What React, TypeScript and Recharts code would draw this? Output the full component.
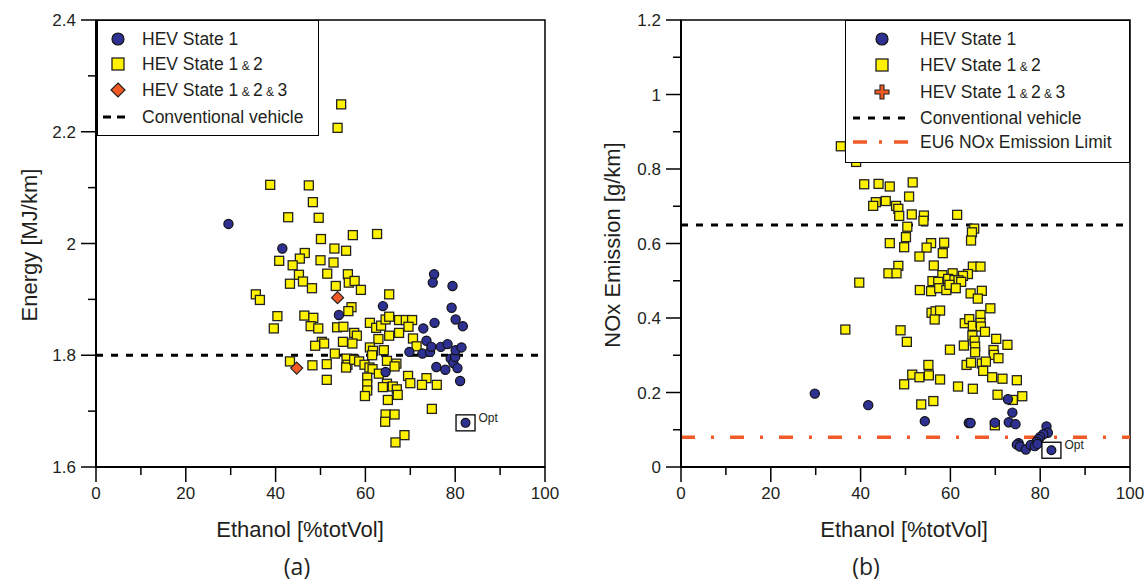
import React from 'react'
import { ScatterChart, Scatter, XAxis, YAxis, ReferenceLine, ReferenceArea } from 'recharts'

// axis ticks
const xTicks = [0, 10, 20, 30, 40, 50, 60, 70, 80, 90, 100]
const energyTicks = [1.6, 1.7, 1.8, 1.9, 2.0, 2.1, 2.2, 2.3, 2.4]
const noxTicks = [0, 0.1, 0.2, 0.3, 0.4, 0.5, 0.6, 0.7, 0.8, 0.9, 1.0, 1.1, 1.2]

// reference levels
const conventionalEnergy = 1.8
const conventionalNox = 0.65
const eu6NoxLimit = 0.08

// (a) energy, [ethanol %, MJ/km]
const energyState1: [number, number][] = [
  [29.5, 2.035], [41.5, 1.991], [54.1, 1.872], [63.9, 1.888], [64.5, 1.770], [69.8, 1.806],
  [72.7, 1.803], [72.9, 1.848], [73.6, 1.826], [74.4, 1.806], [74.7, 1.815], [75.3, 1.945],
  [75.0, 1.930], [75.4, 1.858], [75.8, 1.779], [76.8, 1.815], [77.8, 1.774], [78.3, 1.820],
  [79.0, 1.794], [79.2, 1.885], [79.4, 1.924], [79.6, 1.786], [80.0, 1.797], [80.1, 1.864],
  [80.1, 1.809], [80.5, 1.777], [81.1, 1.754], [81.4, 1.814], [81.7, 1.852],
]
const energyState12: [number, number][] = [
  [53.8, 2.207], [54.6, 2.249], [38.8, 2.105], [47.4, 2.104], [48.3, 2.074], [42.8, 2.047],
  [49.6, 2.046], [50.1, 2.008], [57.2, 2.015], [62.6, 2.017], [53.1, 1.991], [55.7, 1.987],
  [46.5, 1.983], [45.4, 1.973], [40.8, 1.969], [43.8, 1.961], [50.0, 1.970], [52.9, 1.966],
  [51.5, 1.946], [56.1, 1.945], [45.2, 1.944], [56.3, 1.930], [57.6, 1.933], [59.0, 1.917],
  [53.4, 1.924], [46.1, 1.932], [48.1, 1.920], [43.2, 1.928], [35.6, 1.909], [36.5, 1.899],
  [65.3, 1.909], [56.9, 1.886], [56.2, 1.879], [40.4, 1.870], [46.4, 1.871], [48.4, 1.867],
  [39.6, 1.848], [47.8, 1.852], [49.5, 1.848], [53.7, 1.850], [55.1, 1.851], [61.0, 1.858],
  [62.4, 1.849], [63.5, 1.853], [64.5, 1.864], [65.3, 1.869], [67.5, 1.863], [69.0, 1.863],
  [70.4, 1.863], [69.6, 1.851], [67.5, 1.840], [57.5, 1.840], [58.1, 1.835], [55.0, 1.824],
  [57.1, 1.821], [50.3, 1.824], [50.8, 1.821], [48.8, 1.817], [62.9, 1.829], [65.3, 1.835],
  [70.6, 1.830], [71.4, 1.816], [61.0, 1.814], [61.7, 1.808], [64.1, 1.809], [61.5, 1.800],
  [53.2, 1.803], [43.2, 1.789], [48.2, 1.782], [51.4, 1.784], [55.8, 1.794], [56.0, 1.783],
  [55.7, 1.778], [57.5, 1.792], [58.6, 1.789], [59.8, 1.783], [60.9, 1.778], [61.6, 1.775],
  [63.0, 1.767], [64.8, 1.790], [66.9, 1.785], [66.5, 1.780], [51.4, 1.756], [60.4, 1.760],
  [60.4, 1.748], [60.4, 1.737], [59.9, 1.727], [64.8, 1.749], [63.9, 1.743], [66.1, 1.744],
  [67.0, 1.739], [67.2, 1.729], [65.0, 1.720], [69.5, 1.763], [70.0, 1.750], [73.6, 1.759],
  [72.6, 1.747], [75.9, 1.747], [74.8, 1.704], [64.5, 1.694], [66.5, 1.694], [64.4, 1.681],
  [68.7, 1.657], [66.7, 1.644],
]
const energyState123: [number, number][] = [[53.8, 1.903], [44.7, 1.777]]
const energyOpt: [number, number][] = [[82.3, 1.679]]

// (b) NOx, [ethanol %, g/km]
const noxState1: [number, number][] = [
  [29.8, 0.197], [41.7, 0.166], [54.3, 0.123], [64.1, 0.118], [64.5, 0.118], [69.9, 0.119],
  [72.8, 0.182], [73.8, 0.146], [73.0, 0.120], [74.5, 0.115], [81.4, 0.109], [81.7, 0.092],
  [80.7, 0.088], [80.0, 0.081], [79.6, 0.075], [79.2, 0.068], [75.2, 0.064], [74.8, 0.060],
  [75.5, 0.055], [76.8, 0.047], [77.9, 0.059], [78.8, 0.056], [79.4, 0.062],
]
const noxState12: [number, number][] = [
  [35.6, 0.861], [39.0, 0.819], [40.8, 0.759], [44.0, 0.760], [46.5, 0.753], [51.6, 0.764],
  [50.8, 0.726], [45.6, 0.714], [43.4, 0.711], [42.8, 0.701], [47.9, 0.701], [48.4, 0.693],
  [48.6, 0.674], [51.4, 0.678], [54.1, 0.675], [54.0, 0.661], [61.5, 0.677], [50.4, 0.645],
  [50.1, 0.617], [46.5, 0.601], [49.7, 0.590], [65.3, 0.640], [64.8, 0.630], [64.6, 0.608],
  [55.7, 0.601], [54.7, 0.589], [58.6, 0.602], [58.3, 0.574], [53.1, 0.565], [56.3, 0.541],
  [48.4, 0.540], [46.2, 0.520], [48.0, 0.520], [39.7, 0.495], [65.0, 0.538], [66.7, 0.538],
  [60.5, 0.520], [58.2, 0.515], [63.9, 0.518], [62.8, 0.513], [56.0, 0.499], [57.3, 0.497],
  [59.5, 0.505], [60.9, 0.502], [61.8, 0.501], [62.4, 0.497], [53.2, 0.475], [55.7, 0.472],
  [57.5, 0.480], [59.1, 0.475], [59.8, 0.489], [61.2, 0.480], [64.5, 0.466], [67.0, 0.473],
  [66.1, 0.452], [68.9, 0.426], [55.8, 0.414], [56.7, 0.418], [57.7, 0.420], [56.5, 0.396],
  [48.9, 0.367], [36.6, 0.369], [50.3, 0.336], [63.2, 0.386], [64.2, 0.397], [65.0, 0.379],
  [66.7, 0.408], [66.7, 0.387], [66.8, 0.377], [67.7, 0.363], [64.9, 0.353], [65.4, 0.339],
  [65.5, 0.323], [65.5, 0.308], [63.0, 0.326], [59.9, 0.315], [70.2, 0.344], [72.7, 0.328],
  [69.6, 0.314], [69.7, 0.301], [70.7, 0.292], [55.1, 0.274], [51.5, 0.248], [53.1, 0.241],
  [55.2, 0.246], [57.7, 0.235], [49.7, 0.222], [53.5, 0.168], [56.2, 0.177], [61.7, 0.216],
  [65.0, 0.210], [63.6, 0.274], [64.6, 0.280], [67.0, 0.278], [67.9, 0.283], [67.3, 0.258],
  [69.3, 0.241], [71.6, 0.237], [74.8, 0.233], [70.5, 0.194], [73.9, 0.180], [76.0, 0.190],
  [69.9, 0.112],
]
const noxOpt: [number, number][] = [[82.5, 0.045]]

const BLUE = '#2e3192'
const YELLOW = '#fff200'
const RED = '#f15a24'
const ORANGE = '#f15a29'
const TEXT = '#231f20'
const FONT = '"Liberation Sans", Arial, sans-serif'

const pts = (arr: [number, number][]) => arr.map(([x, y]) => ({ x, y }))

const CircleDot = (p: any) => (
  <circle cx={p.cx} cy={p.cy} r={4.6} fill={BLUE} stroke="#111" strokeWidth={1.2} />
)
const SquareDot = (p: any) => (
  <rect x={p.cx - 4.5} y={p.cy - 4.5} width={9} height={9} fill={YELLOW} stroke="#222" strokeWidth={1.3} />
)
const DiamondDot = (p: any) => (
  <polygon
    points={`${p.cx},${p.cy - 6} ${p.cx + 6},${p.cy} ${p.cx},${p.cy + 6} ${p.cx - 6},${p.cy}`}
    fill={RED}
    stroke="#222"
    strokeWidth={1.2}
  />
)
const OptDot = (p: any) => (
  <g>
    <rect x={p.cx - 9.5} y={p.cy - 8} width={19} height={16} fill="#fff" stroke="#000" strokeWidth={1.3} />
    <circle cx={p.cx} cy={p.cy} r={4.4} fill={BLUE} stroke="#111" strokeWidth={1.2} />
    <text x={p.cx + 13} y={p.cy - 1} fontSize={12} fill={TEXT} fontFamily={FONT}>Opt</text>
  </g>
)

function XTick({ x, y, payload }: any) {
  const v = payload.value
  const major = v % 20 === 0
  return (
    <g>
      <line x1={x} y1={y} x2={x} y2={y + (major ? 15 : 8)} stroke="#000" strokeWidth={1.5} />
      {major && (
        <text x={x} y={y + 32} textAnchor="middle" fontSize={17} fill={TEXT} fontFamily={FONT}>{v}</text>
      )}
    </g>
  )
}

function YTick({ x, y, payload }: any) {
  const v = payload.value
  const major = Math.round(v * 10) % 2 === 0
  return (
    <g>
      <line x1={x - (major ? 15 : 8)} y1={y} x2={x} y2={y} stroke="#000" strokeWidth={1.5} />
      {major && (
        <text x={x - 20} y={y + 6} textAnchor="end" fontSize={17} fill={TEXT} fontFamily={FONT}>{String(v)}</text>
      )}
    </g>
  )
}

const abs = (left: number, top: number, extra: React.CSSProperties = {}): React.CSSProperties => ({
  position: 'absolute',
  left,
  top,
  fontFamily: FONT,
  color: TEXT,
  whiteSpace: 'nowrap',
  ...extra,
})

const Amp = () => <span style={{ fontSize: 12 }}> &amp; </span>

function LegendRow({ top, x, textX, marker, children }: any) {
  return (
    <>
      <svg style={{ position: 'absolute', left: x - 30, top: top - 10 }} width={60} height={20}>
        <g transform="translate(30,10)">{marker}</g>
      </svg>
      <div style={abs(textX, top - 11, { fontSize: 17.5, lineHeight: '22px' })}>{children}</div>
    </>
  )
}

const mCircle = <circle cx={0} cy={0} r={6} fill={BLUE} stroke="#111" strokeWidth={1.2} />
const mSquare = <rect x={-6} y={-6} width={12} height={12} fill={YELLOW} stroke="#222" strokeWidth={1.3} />
const mDiamond = <polygon points="0,-7 7,0 0,7 -7,0" fill={RED} stroke="#222" strokeWidth={1.2} />
const mCross = (
  <polygon
    points="-2,-7 2,-7 2,-2 7,-2 7,2 2,2 2,7 -2,7 -2,2 -7,2 -7,-2 -2,-2"
    fill={RED}
    stroke="#222"
    strokeWidth={1.1}
  />
)

function Panel({ left, yDomain, yTicks, children }: any) {
  return (
    <div style={{ position: 'absolute', left, top: 0 }}>
      <ScatterChart width={560} height={520} margin={{ top: 20, right: 15, left: 36, bottom: 20 }}>
        <XAxis
          type="number"
          dataKey="x"
          domain={[0, 100]}
          ticks={xTicks}
          interval={0}
          height={33}
          tickSize={0}
          tickMargin={0}
          tickLine={false}
          tick={<XTick />}
          axisLine={{ stroke: '#000', strokeWidth: 2 }}
        />
        <YAxis
          type="number"
          dataKey="y"
          domain={yDomain}
          ticks={yTicks}
          interval={0}
          width={60}
          tickSize={0}
          tickMargin={0}
          tickLine={false}
          tick={<YTick />}
          axisLine={{ stroke: '#000', strokeWidth: 2 }}
        />
        <ReferenceArea x1={0} x2={100} y1={yDomain[0]} y2={yDomain[1]} fill="none" stroke="#000" strokeWidth={1.5} />
        {children}
      </ScatterChart>
    </div>
  )
}

export default function App() {
  return (
    <div style={{ position: 'absolute', left: 0, top: 0, width: 1145, height: 583, background: '#fff' }}>
      {/* (a) energy */}
      <Panel left={0} yDomain={[1.6, 2.4]} yTicks={energyTicks}>
        <ReferenceLine y={conventionalEnergy} stroke="#000" strokeWidth={3} strokeDasharray="7 8" />
        <Scatter data={pts(energyState12)} shape={SquareDot} isAnimationActive={false} />
        <Scatter data={pts(energyState1)} shape={CircleDot} isAnimationActive={false} />
        <Scatter data={pts(energyState123)} shape={DiamondDot} isAnimationActive={false} />
        <Scatter data={pts(energyOpt)} shape={OptDot} isAnimationActive={false} />
      </Panel>

      {/* (b) NOx */}
      <Panel left={585} yDomain={[0, 1.2]} yTicks={noxTicks}>
        <ReferenceLine y={conventionalNox} stroke="#000" strokeWidth={3} strokeDasharray="7 8" />
        <ReferenceLine y={eu6NoxLimit} stroke={ORANGE} strokeWidth={3.5} strokeDasharray="14 16 3 16" />
        <Scatter data={pts(noxState12)} shape={SquareDot} isAnimationActive={false} />
        <Scatter data={pts(noxState1)} shape={CircleDot} isAnimationActive={false} />
        <Scatter data={pts(noxOpt)} shape={OptDot} isAnimationActive={false} />
      </Panel>

      {/* legend (a) */}
      <div style={{ position: 'absolute', left: 97, top: 20, width: 222, height: 116, border: '1.5px solid #000', background: '#fff', boxSizing: 'border-box' }} />
      <LegendRow top={39} x={118} textX={142} marker={mCircle}>HEV State 1</LegendRow>
      <LegendRow top={64} x={118} textX={142} marker={mSquare}>HEV State 1<Amp />2</LegendRow>
      <LegendRow top={90} x={118} textX={142} marker={mDiamond}>HEV State 1<Amp />2<Amp />3</LegendRow>
      <LegendRow
        top={117}
        x={114}
        textX={142}
        marker={<line x1={-11} y1={0} x2={11} y2={0} stroke="#000" strokeWidth={3} strokeDasharray="8 6" />}
      >
        Conventional vehicle
      </LegendRow>

      {/* legend (b) */}
      <div style={{ position: 'absolute', left: 845, top: 20, width: 285, height: 143, border: '1.5px solid #000', background: '#fff', boxSizing: 'border-box' }} />
      <LegendRow top={39} x={882} textX={920} marker={mCircle}>HEV State 1</LegendRow>
      <LegendRow top={65} x={882} textX={920} marker={mSquare}>HEV State 1<Amp />2</LegendRow>
      <LegendRow top={92} x={882} textX={920} marker={mCross}>HEV State 1<Amp />2<Amp />3</LegendRow>
      <LegendRow
        top={118}
        x={880}
        textX={920}
        marker={<line x1={-27} y1={0} x2={27} y2={0} stroke="#000" strokeWidth={3} strokeDasharray="7 8" />}
      >
        Conventional vehicle
      </LegendRow>
      <LegendRow
        top={142}
        x={880}
        textX={920}
        marker={<line x1={-27} y1={0} x2={28} y2={0} stroke={ORANGE} strokeWidth={3.5} strokeDasharray="14 12 3 12" />}
      >
        EU6 NOx Emission Limit
      </LegendRow>

      {/* axis titles */}
      <div style={abs(300, 530, { fontSize: 22, transform: 'translate(-50%, -50%)' })}>Ethanol [%totVol]</div>
      <div style={abs(904, 530, { fontSize: 22, transform: 'translate(-50%, -50%)' })}>Ethanol [%totVol]</div>
      <div style={abs(30, 245, { fontSize: 22, transform: 'translate(-50%, -50%) rotate(-90deg)' })}>Energy [MJ/km]</div>
      <div style={abs(613, 245, { fontSize: 22, transform: 'translate(-50%, -50%) rotate(-90deg)' })}>NOx Emission [g/km]</div>
      <div style={abs(297, 566, { fontSize: 23, fontFamily: '"Open Sans", sans-serif', transform: 'translate(-50%, -50%)' })}>(a)</div>
      <div style={abs(866, 566, { fontSize: 23, fontFamily: '"Open Sans", sans-serif', transform: 'translate(-50%, -50%)' })}>(b)</div>
    </div>
  )
}
